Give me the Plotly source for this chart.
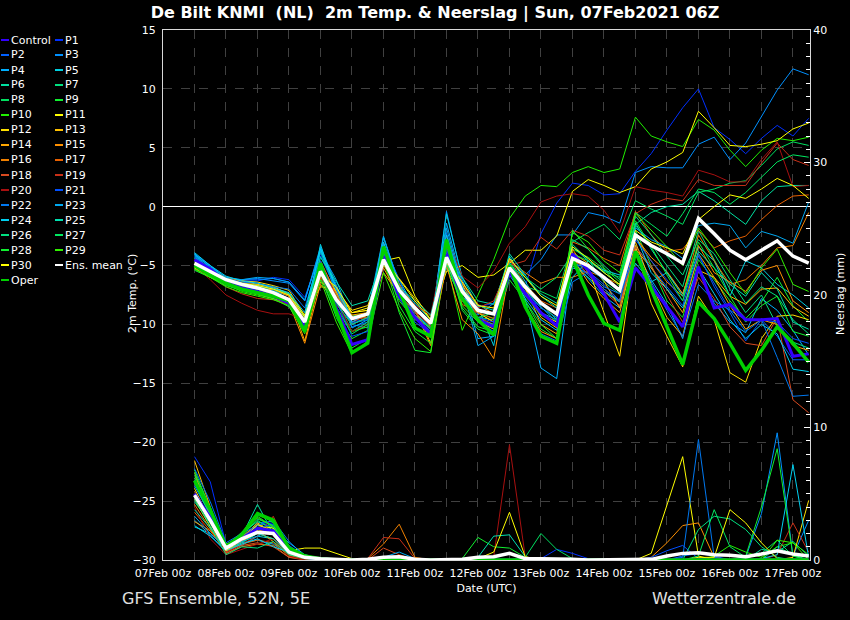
import pandas as pd
import plotly.graph_objects as go

# tijdstappen: 6-uurlijks vanaf 07Feb 12z
tijden = pd.date_range("2021-02-07 12:00", periods=40, freq="6h")

# 2m temperatuur (graden C), per lid
t_control = [-4.5, -5.3, -6.4, -6.9, -7.2, -7.6, -8.2, -10.1,
             -5.2, -8.6, -11.7, -11.3, -4.2, -7.6, -9.4, -10.8,
             -4.0, -7.8, -9.6, -10.2, -5.6, -7.4, -9.0, -10.1,
             -4.0, -5.4, -7.4, -9.8, -5.2, -6.8, -8.5, -10.2,
             -5.1, -8.6, -8.3, -9.6, -9.6, -9.5, -12.7, -12.5]
t_p1 = [-4.3, -5.2, -6.0, -6.3, -6.3, -6.0, -6.2, -7.7,
        -4.0, -7.0, -9.8, -9.5, -3.8, -6.8, -8.2, -9.6,
        -3.9, -6.8, -8.5, -8.2, -4.8, -6.8, -2.3, 0.3,
        2.0, 1.8, 1.0, 1.1, 3.0, 4.5, 6.5, 8.4,
        10.0, 6.7, 5.7, 4.5, 5.8, 6.9, 6.0, 7.5]
t_p2 = [-4.2, -5.0, -6.1, -6.2, -6.2, -6.1, -6.4, -8.0,
        -3.6, -7.4, -10.2, -9.8, -3.3, -7.5, -9.2, -10.6,
        -2.8, -7.6, -9.8, -10.4, -5.4, -6.8, -9.0, -10.2,
        -4.2, -5.5, -6.6, -8.0, -3.3, -5.2, -6.8, -8.4,
        -4.2, -6.5, -8.8, -9.6, -9.6, -11.0, -13.0, -13.0]
t_p3 = [-4.0, -5.0, -6.1, -6.2, -6.1, -6.3, -6.5, -8.0,
        -3.4, -6.6, -10.0, -10.3, -2.6, -6.5, -9.0, -10.4,
        -0.4, -6.2, -9.2, -8.2, -4.6, -5.8, -4.5, -2.4,
        -2.4, -0.5, -0.8, -1.4, 2.9, 3.4, 3.3, 3.3,
        5.3, 5.9, 4.0, 5.4, 7.6, 9.9, 11.7, 11.2]
t_p4 = [-4.0, -5.2, -6.3, -6.6, -6.8, -7.2, -7.5, -9.6,
        -3.5, -6.8, -10.3, -9.6, -3.5, -6.2, -8.7, -10.1,
        -1.4, -6.5, -11.2, -11.0, -5.8, -7.8, -13.7, -14.6,
        -4.6, -6.1, -7.6, -8.6, -3.6, -6.2, -8.3, -11.2,
        -5.4, -8.2, -9.8, -10.7, -7.8, -8.8, -10.5, -12.6]
t_p5 = [-4.1, -5.4, -6.4, -6.7, -7.0, -7.3, -7.8, -10.4,
        -3.2, -7.2, -10.0, -9.4, -2.6, -6.6, -9.0, -10.3,
        -0.6, -6.0, -8.5, -11.8, -4.2, -6.4, -8.5, -9.8,
        -5.2, -5.6, -7.2, -8.1, -4.8, -6.4, -5.6, -7.4,
        -3.4, -4.6, -7.6, -4.6, -5.2, -6.6, -7.5, -8.6]
t_p6 = [-4.3, -5.2, -6.0, -6.5, -6.7, -7.1, -7.6, -9.3,
        -3.8, -7.3, -9.6, -9.0, -3.2, -6.9, -8.2, -9.6,
        -3.0, -6.0, -8.0, -8.3, -4.4, -6.0, -7.4, -8.2,
        -5.0, -6.0, -7.2, -8.0, -1.5, -0.5, 0.0, 0.2,
        1.3, 0.5, -0.5, -1.5, 0.5, 1.7, 1.8, 1.8]
t_p7 = [-4.6, -5.4, -6.3, -6.6, -7.0, -7.5, -8.0, -10.0,
        -6.2, -7.8, -10.6, -9.8, -4.7, -7.4, -8.6, -10.2,
        -5.2, -8.0, -9.4, -9.6, -5.6, -7.0, -8.6, -9.4,
        -3.2, -4.5, -6.4, -7.4, -1.6, -3.2, -5.0, -6.8,
        -2.0, -4.5, -7.0, -9.0, -7.5, -10.1, -11.5, -12.0]
t_p8 = [-4.8, -5.4, -6.2, -6.5, -6.8, -7.3, -7.9, -9.9,
        -5.6, -7.5, -9.3, -9.0, -4.0, -7.6, -9.5, -10.6,
        -4.7, -7.2, -9.0, -9.5, -4.6, -6.8, -7.2, -7.8,
        -3.0, -2.2, -1.5, -2.8, 0.5, -0.2, -0.8, -1.5,
        1.2, 1.5, 2.0, 2.2, 3.5, 4.9, 5.5, 5.2]
t_p9 = [-5.3, -5.8, -6.6, -7.0, -7.3, -7.6, -8.3, -10.4,
        -6.0, -9.2, -11.2, -10.5, -4.4, -9.0, -12.2, -12.4,
        -4.6, -8.6, -10.2, -10.6, -6.2, -8.0, -10.4, -11.2,
        -3.6, -4.3, -5.3, -6.8, -2.0, -5.0, -8.0, -9.4,
        -4.5, -6.2, -8.0, -9.5, -8.1, -6.0, -8.4, -9.8]
t_p10 = [-5.2, -6.0, -6.6, -7.2, -7.5, -7.8, -8.2, -10.0,
         -5.8, -8.5, -10.6, -10.2, -4.8, -8.0, -9.6, -10.2,
         -4.6, -10.5, -7.5, -4.5, -1.0, 0.9, 1.8, 1.7,
         2.9, 3.4, 2.9, 3.2, 7.6, 6.0, 5.5, 5.1,
         7.4, 6.5, 4.8, 3.4, 4.8, 5.8, 5.6, 5.9]
t_p11 = [-4.9, -5.6, -6.1, -6.3, -6.6, -6.8, -7.4, -9.2,
         -5.0, -7.2, -9.0, -8.6, -4.6, -4.3, -7.6, -9.6,
         -5.5, -5.0, -6.0, -5.8, -4.8, -3.7, -3.7, -2.5,
         1.3, 2.3, 1.8, 1.2, 1.7, 3.2, 3.8, 4.6,
         8.1, 6.7, 5.2, 5.1, 5.3, 5.6, 6.6, 7.1]
t_p12 = [-4.9, -5.7, -6.0, -6.3, -6.4, -6.7, -7.1, -9.3,
         -6.8, -7.0, -8.8, -8.4, -4.8, -6.1, -7.8, -9.3,
         -4.9, -7.6, -9.0, -9.8, -5.3, -7.3, -9.1, -9.8,
         -4.6, -5.2, -9.0, -12.7, -3.3, -8.2, -11.0, -13.6,
         -7.6, -9.6, -14.1, -14.9, -11.2, -9.3, -9.2, -9.6]
t_p13 = [-5.1, -5.8, -6.2, -6.5, -6.6, -6.9, -7.4, -9.7,
         -6.4, -7.2, -9.3, -9.4, -5.0, -6.6, -8.6, -11.6,
         -4.8, -6.6, -9.0, -9.8, -5.6, -7.0, -9.4, -10.3,
         -3.9, -4.8, -6.3, -8.6, -3.0, -6.6, -9.4, -11.0,
         -5.4, -6.0, -7.6, -8.3, -7.0, -6.9, -8.5, -9.3]
t_p14 = [-5.2, -6.0, -6.5, -6.9, -7.2, -7.0, -7.6, -11.4,
         -6.0, -7.3, -9.2, -9.0, -5.6, -7.5, -9.3, -11.0,
         -4.4, -8.0, -9.7, -10.4, -5.6, -6.8, -10.0, -10.8,
         -4.4, -6.4, -7.8, -9.0, -3.6, -5.2, -7.0, -9.0,
         -4.0, -6.0, -8.4, -10.4, -9.6, -10.0, -11.8, -12.2]
t_p15 = [-4.7, -5.9, -6.5, -7.0, -7.4, -7.8, -8.2, -11.6,
         -6.6, -7.8, -9.0, -8.8, -5.2, -7.6, -8.8, -11.8,
         -5.0, -9.6, -10.8, -12.9, -5.4, -8.4, -10.6, -11.2,
         -3.6, -5.6, -7.0, -8.0, -2.6, -4.3, -5.5, -7.4,
         -3.3, -5.6, -6.4, -7.2, -5.4, -5.0, -8.0, -9.0]
t_p16 = [-5.0, -5.8, -6.4, -6.7, -7.0, -7.4, -8.0, -10.3,
         -4.6, -7.4, -9.8, -9.2, -4.4, -6.8, -8.4, -10.2,
         -4.2, -6.5, -8.3, -9.1, -4.6, -5.6, -6.5, -6.0,
         -6.0, -5.5, -6.0, -6.6, -2.6, -4.6, -6.4, -7.6,
         -2.4, -4.6, -6.6, -6.2, -5.0, -3.5, -3.3, -0.5]
t_p17 = [-4.5, -5.4, -6.0, -6.4, -6.7, -7.0, -7.6, -9.6,
         -5.0, -7.8, -9.4, -9.0, -3.8, -7.4, -9.2, -10.4,
         -4.0, -8.3, -9.0, -9.5, -5.0, -6.6, -8.0, -8.6,
         -3.0, -3.5, -4.4, -5.0, -0.4, -2.4, -3.8, -3.6,
         -2.0, -3.5, -2.9, -2.5, -1.1, 0.1, 0.9, 1.0]
t_p18 = [-4.8, -5.6, -6.4, -6.8, -7.0, -7.4, -7.8, -10.1,
         -4.8, -7.6, -9.6, -9.4, -3.6, -6.6, -8.8, -10.1,
         -3.4, -7.0, -9.4, -10.0, -4.4, -6.6, -8.2, -9.6,
         -4.2, -5.8, -7.2, -8.4, -3.4, -5.0, -7.5, -9.8,
         -6.0, -7.8, -10.2, -11.6, -11.8, -9.4, -16.4, -17.5]
t_p19 = [-4.6, -5.6, -6.8, -7.4, -7.8, -7.9, -8.3, -10.2,
         -6.0, -8.3, -10.0, -9.4, -3.0, -7.4, -9.0, -10.1,
         -3.6, -6.4, -8.6, -8.0, -5.0, -4.6, -2.6, -3.6,
         -2.0, -2.5, -3.7, -4.1, -0.6, 0.2, 0.7, 0.5,
         2.3, 1.8, 1.8, 1.8, 3.7, 5.4, 4.0, 3.5]
t_p20 = [-5.0, -6.2, -7.5, -8.2, -8.8, -9.1, -9.1, -9.6,
         -5.8, -8.0, -10.6, -10.0, -3.6, -7.0, -8.4, -9.2,
         -2.5, -5.9, -6.9, -5.5, -3.1, -1.7, 0.4, 0.9,
         1.1, 0.9, -0.3, -2.2, 1.7, 1.4, 1.2, 0.9,
         3.1, 2.7, 2.1, 2.1, 4.0, 5.5, 1.7, 1.8]
t_p21 = [-4.4, -5.2, -6.2, -6.6, -6.9, -7.2, -7.8, -9.8,
         -4.6, -8.0, -11.0, -10.6, -3.8, -7.8, -9.8, -10.8,
         -3.6, -7.6, -9.4, -9.8, -5.2, -7.2, -8.6, -9.4,
         -4.6, -5.8, -7.0, -8.0, -2.8, -4.6, -6.2, -8.0,
         -4.0, -6.8, -9.0, -11.4, -9.6, -9.8, -11.2, -11.6]
t_p22 = [-4.2, -5.3, -6.1, -6.4, -6.5, -6.8, -7.0, -8.6,
         -4.2, -7.0, -9.9, -9.6, -3.1, -6.2, -9.4, -10.7,
         -2.2, -7.0, -9.8, -10.6, -5.0, -8.4, -10.8, -11.4,
         -6.4, -5.6, -6.8, -7.4, -4.0, -6.4, -8.8, -11.0,
         -6.6, -8.0, -8.8, -10.6, -9.6, -12.8, -16.1, -16.0]
t_p23 = [-4.1, -5.1, -6.0, -6.2, -6.0, -6.1, -6.4, -7.9,
         -3.8, -6.2, -9.8, -9.0, -2.5, -6.8, -8.8, -10.0,
         -1.8, -6.8, -11.8, -11.0, -5.0, -7.4, -9.0, -9.6,
         -4.8, -5.2, -6.2, -7.2, -1.8, -2.8, -3.4, -4.4,
         -1.6, -1.4, -1.6, -3.5, -2.1, -2.5, -3.1, 0.4]
t_p24 = [-3.9, -5.0, -5.9, -6.3, -6.5, -6.9, -7.3, -9.0,
         -3.6, -6.9, -9.4, -9.2, -3.0, -7.0, -8.5, -9.8,
         -2.4, -7.1, -9.6, -11.0, -5.4, -7.8, -9.6, -10.5,
         -6.0, -4.6, -5.4, -5.8, -2.4, -5.6, -7.0, -8.6,
         -5.2, -7.4, -9.6, -11.2, -10.0, -10.8, -13.8, -14.0]
t_p25 = [-4.4, -5.4, -6.1, -6.5, -6.7, -7.0, -7.4, -9.4,
         -4.3, -6.4, -8.4, -8.0, -4.2, -6.8, -8.0, -9.2,
         -4.0, -7.0, -8.4, -8.8, -4.0, -5.8, -7.6, -8.6,
         -3.4, -4.6, -5.6, -6.6, -1.4, -3.6, -5.6, -7.6,
         -3.8, -5.2, -6.6, -7.6, -5.6, -7.0, -9.8, -10.4]
t_p26 = [-4.7, -5.6, -6.4, -6.8, -7.0, -7.3, -8.0, -10.2,
         -5.4, -8.2, -10.0, -9.4, -4.6, -7.4, -9.2, -10.4,
         -4.9, -7.8, -9.6, -10.0, -4.8, -6.6, -8.2, -9.6,
         -2.8, -3.6, -5.0, -6.2, -0.8, -2.4, -4.2, -5.8,
         -2.8, -4.0, -6.2, -8.2, -6.8, -7.6, -9.6, -10.8]
t_p27 = [-5.0, -5.7, -6.5, -6.9, -7.2, -7.5, -8.0, -10.2,
         -5.2, -8.6, -10.8, -10.0, -4.2, -7.8, -9.4, -10.8,
         -4.5, -7.8, -9.4, -9.0, -5.0, -6.0, -7.0, -6.0,
         -4.0, -4.6, -5.5, -6.0, -0.5, -1.5, -2.5, -0.6,
         1.5, 1.2, 0.2, 1.2, 2.5, 3.8, 4.4, 4.2]
t_p28 = [-5.4, -6.0, -6.7, -7.1, -7.4, -7.8, -8.5, -10.6,
         -5.6, -9.4, -12.0, -11.2, -4.0, -8.4, -10.6, -11.6,
         -4.0, -8.8, -10.4, -10.9, -5.4, -8.0, -10.0, -11.2,
         -2.0, -3.6, -5.2, -6.4, -1.2, -3.4, -5.8, -8.0,
         -3.0, -5.2, -7.6, -9.8, -8.4, -7.6, -10.6, -11.0]
t_p29 = [-5.3, -6.0, -6.8, -7.3, -7.6, -7.9, -8.4, -10.8,
         -6.2, -9.8, -12.5, -11.4, -5.6, -8.8, -11.2, -12.3,
         -4.2, -8.4, -9.8, -10.2, -5.6, -7.6, -9.2, -10.0,
         -2.2, -3.0, -4.6, -5.6, -0.6, -2.0, -3.4, -5.0,
         -1.8, -3.6, -5.6, -7.4, -5.2, -3.6, -6.6, -7.2]
t_p30 = [-5.1, -5.7, -6.2, -6.5, -6.7, -7.0, -7.5, -9.4,
         -5.8, -6.8, -9.0, -8.8, -4.3, -6.2, -8.0, -9.6,
         -4.6, -6.4, -8.4, -8.6, -4.4, -6.0, -7.6, -8.4,
         -3.4, -4.4, -5.6, -6.6, -2.0, -3.0, -3.5, -4.0,
         -1.1, 0.0, 1.0, 0.7, 1.5, 2.4, 1.8, 0.7]
t_oper = [-5.0, -5.8, -6.5, -7.0, -7.3, -7.6, -8.0, -10.6,
          -4.8, -8.9, -12.4, -11.6, -3.4, -7.1, -10.3, -11.0,
          -2.8, -7.8, -9.6, -10.9, -5.0, -8.5, -11.0, -11.6,
          -4.4, -7.5, -9.9, -10.5, -3.8, -7.0, -10.2, -13.4,
          -8.1, -9.5, -11.6, -13.9, -12.2, -10.2, -11.6, -13.2]
t_mean = [-4.8, -5.5, -6.2, -6.6, -6.9, -7.3, -7.9, -9.8,
          -5.5, -7.9, -9.5, -9.1, -4.5, -7.1, -8.6, -9.9,
          -4.3, -7.2, -8.8, -9.1, -5.2, -6.8, -8.2, -9.1,
          -4.4, -5.0, -6.0, -7.1, -2.4, -3.3, -4.0, -4.8,
          -1.0, -2.3, -3.7, -4.5, -3.7, -2.9, -4.2, -4.8]

# neerslag (mm per 6 uur), per lid
p_control = [5.0, 3.2, 0.9, 1.6, 2.4, 2.2, 0.7, 0.2, 0.1, 0,
             0, 0, 0, 0, 0, 0, 0, 0, 0, 0,
             0, 0, 0, 0, 0, 0, 0, 0, 0, 0,
             0, 0, 0, 0, 0, 0, 0, 0, 0, 0]
p_p1 = [7.8, 5.9, 1.2, 1.8, 2.6, 2.8, 0.5, 0.2, 0, 0,
        0, 0, 0, 0, 0, 0, 0, 0, 0, 0,
        0, 0, 0.1, 0.8, 0.5, 0.1, 0, 0, 0, 0,
        0, 0, 0, 0, 0, 0, 0, 0, 0, 0]
p_p2 = [6.2, 3.8, 0.6, 1.6, 2.8, 2.9, 0.8, 0.2, 0, 0,
        0, 0, 0, 0, 0, 0, 0, 0, 0, 0,
        0, 0, 0, 0, 0, 0, 0, 0, 0, 0,
        0, 0.3, 0.5, 0.3, 0, 0, 0, 0, 0, 0]
p_p3 = [5.6, 3.4, 1.0, 1.4, 2.0, 2.6, 1.0, 0.3, 0, 0,
        0, 0, 0, 0, 0, 0, 0, 0, 0, 0,
        0, 0, 0, 0, 0, 0, 0, 0, 0, 0,
        0, 0, 0, 0, 0, 0.2, 3.5, 9.6, 0.3, 3.0]
p_p4 = [3.0, 1.9, 0.6, 1.3, 1.5, 1.2, 0.4, 0.1, 0, 0,
        0, 0, 0, 0, 0, 0, 0, 0, 0, 0,
        0, 0, 0, 0, 0, 0, 0, 0, 0, 0,
        0, 0, 0, 0, 0, 0, 0, 0, 0, 0]
p_p5 = [2.5, 2.0, 0.9, 1.1, 1.8, 1.6, 0.3, 0.1, 0, 0,
        0, 0, 0, 0, 0, 0, 0, 0, 0, 0,
        0, 0, 0, 0, 0, 0, 0, 0, 0, 0,
        0, 0, 0, 0, 0, 0, 0, 0, 0, 0]
p_p6 = [4.4, 2.8, 0.5, 1.8, 4.2, 2.0, 0.5, 0.1, 0, 0,
        0, 0, 0, 0, 0, 0, 0, 0, 0, 0,
        0, 0, 0, 0, 0, 0, 0, 0, 0, 0,
        0, 0, 0, 0, 0, 0, 0.8, 0.6, 1.4, 0.3]
p_p7 = [5.2, 3.0, 0.8, 2.0, 2.9, 2.4, 0.6, 0.2, 0, 0,
        0, 0, 0, 0, 0, 0, 0, 0, 0, 0,
        0, 0, 0, 0, 0, 0, 0, 0, 0, 0,
        0, 0, 0, 0, 0, 0, 0, 1.0, 0.4, 0]
p_p8 = [6.4, 3.6, 1.1, 1.9, 3.0, 2.2, 0.8, 0.3, 0.1, 0,
        0, 0, 0, 0, 0, 0, 0, 0, 0, 0,
        0, 0.2, 2.0, 0.8, 0.1, 0, 0, 0, 0, 0,
        0, 0, 0, 0, 0, 0, 0, 0, 0, 0]
p_p9 = [6.8, 3.9, 1.0, 2.1, 3.3, 2.5, 0.9, 0.3, 0.1, 0,
        0, 0, 0, 0, 0, 0, 0, 0.1, 1.7, 1.0,
        0.9, 0.2, 0, 0, 0, 0, 0, 0, 0, 0,
        0, 0, 0, 0, 0, 0, 0, 0, 0, 0]
p_p10 = [6.0, 3.6, 0.8, 2.0, 3.4, 2.9, 0.7, 0.2, 0, 0,
         0, 0, 0, 0, 0, 0, 0, 0, 0, 0,
         0, 0, 0, 0, 0, 0, 0, 0, 0, 0,
         0, 0, 0, 0.3, 1.1, 0.6, 0.2, 1.0, 1.3, 0.4]
p_p11 = [4.6, 2.5, 0.8, 1.6, 2.6, 2.4, 0.7, 0.9, 0.9, 0.5,
         0.1, 0, 0, 0, 0, 0, 0, 0, 0, 0,
         0, 0, 0, 0, 0, 0, 0, 0, 0, 0.5,
         4.2, 7.8, 0.3, 0, 0, 0, 0, 0, 0, 0]
p_p12 = [5.4, 3.0, 1.0, 1.4, 2.3, 2.0, 0.5, 0.2, 0, 0,
         0, 0, 0, 0, 0, 0, 0, 0, 0, 0,
         0, 0, 0, 0, 0, 0, 0, 0, 0, 0,
         0, 0, 0, 0, 0, 0, 0, 0, 0.2, 4.5]
p_p13 = [7.5, 4.0, 0.7, 1.7, 2.8, 2.1, 0.6, 0.2, 0, 0,
         0, 0, 0, 0, 0, 0, 0, 0, 0, 0,
         0, 0, 0, 0, 0, 0, 0, 0, 0, 0,
         0, 0, 0, 0, 0, 0, 0, 0, 0, 0]
p_p14 = [2.9, 2.2, 1.2, 1.6, 2.2, 1.4, 0.4, 0.1, 0, 0,
         0, 0, 0, 0, 0, 0, 0, 0, 0, 0,
         0, 0, 0, 0, 0, 0, 0, 0, 0, 0,
         0, 0, 0, 0, 0, 0, 0, 0, 0, 0]
p_p15 = [6.6, 3.3, 0.6, 1.4, 2.0, 1.6, 0.3, 0.1, 0, 0,
         0, 0, 0, 0, 0, 0, 0, 0, 0, 0,
         0, 0, 0, 0, 0, 0, 0, 0, 0, 0.2,
         1.3, 2.6, 2.8, 0.2, 0, 0, 0, 0, 0, 0]
p_p16 = [4.2, 2.4, 0.5, 1.0, 1.2, 1.1, 0.2, 0.1, 0, 0,
         0, 0.1, 1.2, 2.7, 0.2, 0, 0, 0, 0, 0,
         0, 0, 0, 0, 0, 0, 0, 0, 0, 0,
         0, 0, 0, 0, 0, 0, 0, 0, 0, 0]
p_p17 = [3.6, 2.2, 0.6, 1.2, 1.5, 1.3, 0.3, 0.1, 0, 0,
         0, 0, 0, 0, 0, 0, 0, 0, 0, 0,
         0, 0, 0, 0, 0, 0, 0, 0, 0, 0,
         0, 0, 0, 0, 0, 0, 0, 0, 0, 0]
p_p18 = [4.8, 3.0, 0.5, 1.1, 1.3, 1.0, 0.2, 0, 0, 0,
         0, 0, 0.9, 0.4, 0, 0, 0, 0, 0, 0,
         0, 0, 0, 0, 0, 0, 0, 0, 0, 0,
         0, 0, 0, 0, 0, 0, 0, 0, 0, 0]
p_p19 = [5.2, 2.8, 0.6, 1.2, 1.8, 3.3, 0.8, 0.1, 0, 0,
         0, 0.1, 1.7, 1.6, 0.1, 0, 0, 0, 0, 0,
         0, 0, 0, 0, 0, 0, 0, 0, 0, 0,
         0, 0, 0, 0, 0, 0, 0, 0.4, 2.8, 0.6]
p_p20 = [4.0, 1.6, 0.4, 0.8, 1.2, 1.6, 0.3, 0, 0, 0,
         0, 0, 0, 0, 0, 0, 0, 0, 0, 0.25,
         8.7, 0.25, 0, 0, 0, 0, 0, 0, 0, 0,
         0, 0, 0, 0, 0, 0, 0, 0, 0, 0]
p_p21 = [6.0, 3.5, 1.0, 1.7, 2.4, 2.7, 1.1, 0.3, 0, 0,
         0, 0, 0, 0, 0, 0, 0, 0, 0, 0,
         0, 0, 0, 0, 0, 0, 0, 0, 0, 0.2,
         0.7, 1.1, 0.1, 0, 0, 0, 0, 0, 0, 0]
p_p22 = [6.9, 4.4, 1.3, 2.0, 2.6, 3.0, 1.4, 0.3, 0.1, 0,
         0, 0, 0, 0, 0, 0, 0, 0, 0, 0,
         0, 0, 0, 0, 0, 0, 0, 0, 0, 0,
         0, 0.2, 9.1, 0.2, 0, 0, 0, 0, 0, 0]
p_p23 = [3.3, 2.0, 0.9, 1.4, 1.8, 2.3, 1.3, 0.4, 0.1, 0,
         0, 0, 0.2, 0.6, 0.1, 0, 0, 0, 0, 0,
         0, 0, 0, 0, 0, 0, 0, 0, 0, 0,
         0, 0, 0, 0, 0, 0, 0, 0, 0, 0]
p_p24 = [2.6, 1.8, 0.7, 1.2, 1.6, 1.0, 0.6, 0.2, 0, 0,
         0, 0, 0, 0, 0, 0, 0, 0, 0, 0,
         0, 0, 0, 0, 0, 0, 0, 0, 0, 0,
         0, 0, 0, 0, 0, 0, 0.1, 0.4, 7.2, 0.2]
p_p25 = [3.8, 2.4, 0.8, 1.3, 2.0, 1.6, 0.5, 0.2, 0, 0,
         0, 0, 0, 0, 0, 0, 0, 0, 0.2, 1.8,
         1.9, 0.25, 0, 0, 0, 0, 0, 0, 0, 0,
         0, 0, 0, 0, 0, 0, 0, 0, 0, 0]
p_p26 = [4.6, 2.6, 0.4, 1.0, 0.9, 1.4, 0.4, 0.1, 0, 0,
         0, 0, 0, 0, 0, 0, 0, 0, 0, 0,
         0, 0, 0, 0, 0, 0, 0, 0, 0, 0,
         0, 0, 2.3, 3.3, 3.1, 2.3, 1.0, 0.2, 0, 0]
p_p27 = [5.8, 3.4, 0.9, 1.8, 3.1, 2.6, 0.8, 0.3, 0.1, 0,
         0, 0, 0, 0, 0, 0, 0, 0, 0, 0,
         0, 0, 0, 0, 0, 0, 0, 0, 0, 0,
         0, 0, 0.3, 3.8, 1.0, 0.2, 0.5, 1.5, 0.3, 0]
p_p28 = [6.6, 3.8, 1.1, 2.0, 3.6, 2.8, 1.0, 0.4, 0.1, 0,
         0, 0, 0, 0, 0, 0, 0, 0, 0, 0,
         0, 0, 0, 0, 0, 0, 0, 0, 0, 0,
         0, 0, 0, 0, 0, 0.3, 4.0, 8.4, 0.3, 0]
p_p29 = [6.2, 3.6, 1.0, 1.9, 3.2, 2.5, 0.9, 0.3, 0.1, 0,
         0, 0, 0, 0, 0, 0, 0, 0, 0, 0,
         0, 0, 0, 0, 0, 0, 0, 0, 0, 0,
         0, 0, 0, 0, 0, 0, 0, 1.5, 1.3, 0]
p_p30 = [5.0, 2.9, 0.7, 1.5, 2.7, 2.1, 0.6, 0.2, 0, 0,
         0, 0, 0, 0, 0, 0, 0, 0, 0.1, 0.6,
         3.6, 0.25, 0, 0, 0, 0, 0, 0, 0, 0,
         0, 0, 0.2, 0.2, 3.8, 2.8, 1.3, 0.1, 0, 0]
p_oper = [6.0, 3.8, 1.0, 1.9, 3.5, 3.0, 0.9, 0.3, 0.1, 0,
          0, 0, 0, 0, 0, 0, 0, 0, 0, 0,
          0, 0, 0, 0, 0, 0, 0, 0, 0, 0,
          0, 0, 0, 0, 0, 0, 0, 0, 0, 0]
p_mean = [4.9, 3.0, 0.9, 1.6, 2.1, 2.0, 0.6, 0.2, 0.1, 0.05,
          0, 0.05, 0.2, 0.25, 0.05, 0, 0, 0.05, 0.2, 0.25,
          0.5, 0.1, 0.1, 0.1, 0.05, 0, 0, 0, 0, 0.05,
          0.3, 0.5, 0.55, 0.4, 0.35, 0.25, 0.45, 0.7, 0.45, 0.3]

namen = ["Control"] + ["P%d" % i for i in range(1, 31)] + ["Ens. mean", "Oper"]
kleuren = ["#3300ff", "#0030ff", "#0060ff", "#0090ff", "#00b0ff", "#00d0e0",
           "#00e0a0", "#00e080", "#00e060", "#10f030", "#20f000",
           "#ffff00", "#ffe000", "#ffc000", "#ffa800", "#ff9000",
           "#f08000", "#e86000", "#d84a20", "#c83018", "#a81010",
           "#0050ff", "#0078f0", "#00a8f0", "#00d0f0", "#00e0b0",
           "#00e080", "#00e860", "#10f030", "#30f000", "#ffff00",
           "#ffffff", "#00d000"]

temps = [t_control, t_p1, t_p2, t_p3, t_p4, t_p5, t_p6, t_p7, t_p8, t_p9, t_p10,
         t_p11, t_p12, t_p13, t_p14, t_p15, t_p16, t_p17, t_p18, t_p19, t_p20,
         t_p21, t_p22, t_p23, t_p24, t_p25, t_p26, t_p27, t_p28, t_p29, t_p30,
         t_mean, t_oper]
neerslag = [p_control, p_p1, p_p2, p_p3, p_p4, p_p5, p_p6, p_p7, p_p8, p_p9, p_p10,
            p_p11, p_p12, p_p13, p_p14, p_p15, p_p16, p_p17, p_p18, p_p19, p_p20,
            p_p21, p_p22, p_p23, p_p24, p_p25, p_p26, p_p27, p_p28, p_p29, p_p30,
            p_mean, p_oper]

# lijndiktes: dunne leden, dikke control / oper / gemiddelde
dikte = {"Control": 3, "Oper": 3.5, "Ens. mean": 3.5}
# tekenvolgorde: leden eerst, dan Control, Oper en het gemiddelde bovenop
volgorde = list(range(1, 31)) + [0, 32, 31]

fig = go.Figure()
for as_y, reeksen in (("y", temps), ("y2", neerslag)):
    for k in volgorde:
        fig.add_trace(go.Scatter(
            x=tijden, y=reeksen[k], name=namen[k], mode="lines", yaxis=as_y,
            line=dict(color=kleuren[k], width=dikte.get(namen[k], 1)),
            showlegend=False))

# legenda in twee kolommen links naast de grafiek
pw, ph = 647.0, 530.0
for k, naam in enumerate(namen):
    rij, kol = divmod(k, 2)
    ypx = 40 + 15 * rij
    yp = (560 - ypx) / ph
    x0 = 1 if kol == 0 else 55
    fig.add_shape(type="line", xref="paper", yref="paper",
                  x0=(x0 - 163) / pw, x1=(x0 + 8 - 163) / pw, y0=yp, y1=yp,
                  line=dict(color=kleuren[k], width=2))
    fig.add_annotation(text=naam, xref="paper", yref="paper",
                       x=(x0 + 8 - 163) / pw, y=yp, xanchor="left", yanchor="middle",
                       showarrow=False, font=dict(size=11, color="white"))

# astitels links en rechts
fig.add_annotation(text="2m Temp. (°C)", xref="paper", yref="paper",
                   x=(132 - 163) / pw, y=(560 - 294) / ph, textangle=-90,
                   xanchor="center", yanchor="middle", showarrow=False,
                   font=dict(size=11, color="white"))
fig.add_annotation(text="Neerslag (mm)", xref="paper", yref="paper",
                   x=(840 - 163) / pw, y=(560 - 294) / ph, textangle=-90,
                   xanchor="center", yanchor="middle", showarrow=False,
                   font=dict(size=11, color="white"))

fig.add_annotation(text="GFS Ensemble, 52N, 5E", xref="paper", yref="paper",
                   x=(120 - 163) / pw, y=(560 - 598) / ph, xanchor="left", yanchor="middle",
                   showarrow=False, font=dict(size=16, color="#e0e0e0"))
fig.add_annotation(text="Wetterzentrale.de", xref="paper", yref="paper",
                   x=(650 - 163) / pw, y=(560 - 598) / ph, xanchor="left", yanchor="middle",
                   showarrow=False, font=dict(size=16, color="#e0e0e0"))

raster = "#404040"
fig.update_layout(
    width=850, height=620,
    paper_bgcolor="black", plot_bgcolor="black",
    margin=dict(l=163, r=40, t=30, b=60),
    font=dict(family="DejaVu Sans", size=11, color="white"),
    title=dict(text="<b>De Bilt KNMI \u00a0(NL) \u00a02m Temp. & Neerslag | Sun, 07Feb2021 06Z</b>",
               x=435 / 850, xanchor="center", y=1 - 12 / 620, yanchor="middle",
               font=dict(size=16, color="white")),
    showlegend=False,
    xaxis=dict(type="date", range=["2021-02-07 00:00", "2021-02-17 06:30"],
               tick0="2021-02-07", dtick=86400000, tickformat="%d%b %Hz",
               showgrid=True, gridcolor=raster, griddash="dash", gridwidth=1,
               minor=dict(dtick=43200000, showgrid=True, gridcolor=raster, griddash="dash"),
               showline=True, linecolor="#d8d8d8", mirror=True, zeroline=False,
               ticks="", ticklabelstandoff=3,
               title=dict(text="Date (UTC)", standoff=5, font=dict(size=11))),
    yaxis=dict(range=[-30, 15], dtick=5, showgrid=True, gridcolor=raster, griddash="dash",
               zeroline=True, zerolinecolor="white", zerolinewidth=1.3,
               showline=True, linecolor="#d8d8d8", mirror=True, ticks="",
               ticklabelstandoff=4),
    yaxis2=dict(overlaying="y", side="right", range=[0, 40], dtick=10, showgrid=False,
                zeroline=False, showline=True, linecolor="#d8d8d8",
                ticks="inside", ticklen=6, tickcolor="white",
                minor=dict(dtick=1, ticks="inside", ticklen=4, tickcolor="white")),
)

# paginamarge weg zodat de figuur het hele venster vult; geen knoppenbalk
fig.write_html("out.html", config={"displayModeBar": False},
               post_script="document.body.style.margin='0';")
